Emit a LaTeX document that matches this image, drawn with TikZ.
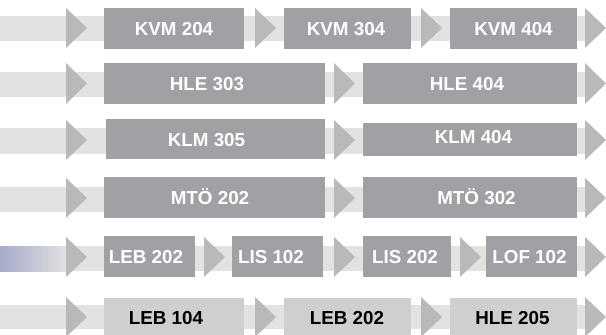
\documentclass[tikz,border=0pt]{standalone}
\usepackage{fontspec}
\setmainfont{Liberation Sans}
\usepackage{tikz}
\definecolor{bandgrey}{RGB}{225,226,226}
\definecolor{tipgrey}{RGB}{184,185,186}
\definecolor{boxgrey}{RGB}{160,161,164}
\definecolor{paleboxgrey}{RGB}{206,207,208}
\definecolor{fadeblue}{RGB}{166,170,200}

\begin{document}
\begin{tikzpicture}[x=0.75pt,y=0.75pt,yscale=-1,xscale=1,
  course/.style={font=\fontsize{14.1}{15}\selectfont\bfseries, text=white, text height=10.1pt, text depth=0pt, inner sep=0pt},
  palecourse/.style={course, text=black}]
\useasboundingbox (0,0) rectangle (606,335);

% Bands
\fill [bandgrey] (0,16) rectangle (590,41) ;
\fill [bandgrey] (0,72) rectangle (590,97) ;
\fill [bandgrey] (0,128) rectangle (590,154) ;
\fill [bandgrey] (0,187) rectangle (590,212) ;
\fill [bandgrey] (66,246) rectangle (590,271) ;
\shade [left color=fadeblue, right color=bandgrey] (0,246) rectangle (67,271) ;
\fill [bandgrey] (0,305) rectangle (590,329) ;

% Tips row 1
\fill [tipgrey] (66,8) -- (87,28) -- (66,48) -- cycle ;
\fill [tipgrey] (255,8) -- (276,28) -- (255,48) -- cycle ;
\fill [tipgrey] (421,8) -- (442,28) -- (421,48) -- cycle ;
\fill [tipgrey] (585,8) -- (606,28) -- (585,48) -- cycle ;
% Tips row 2
\fill [tipgrey] (66,63) -- (87,83.5) -- (66,104) -- cycle ;
\fill [tipgrey] (334,63) -- (355,83.5) -- (334,104) -- cycle ;
\fill [tipgrey] (585,63) -- (606,83.5) -- (585,104) -- cycle ;
% Tips row 3
\fill [tipgrey] (66,120) -- (87,140) -- (66,160) -- cycle ;
\fill [tipgrey] (334,120) -- (355,140) -- (334,160) -- cycle ;
\fill [tipgrey] (585,120) -- (606,140) -- (585,160) -- cycle ;
% Tips row 4
\fill [tipgrey] (66,178) -- (87,198) -- (66,218) -- cycle ;
\fill [tipgrey] (334,178) -- (355,198) -- (334,218) -- cycle ;
\fill [tipgrey] (585,178) -- (606,198) -- (585,218) -- cycle ;
% Tips row 5
\fill [tipgrey] (66,237) -- (87,257) -- (66,277) -- cycle ;
\fill [tipgrey] (204,237) -- (225,257) -- (204,277) -- cycle ;
\fill [tipgrey] (334,237) -- (355,257) -- (334,277) -- cycle ;
\fill [tipgrey] (460,237) -- (481,257) -- (460,277) -- cycle ;
\fill [tipgrey] (585,237) -- (606,257) -- (585,277) -- cycle ;
% Tips row 6
\fill [tipgrey] (66,297) -- (87,317) -- (66,337) -- cycle ;
\fill [tipgrey] (255,297) -- (276,317) -- (255,337) -- cycle ;
\fill [tipgrey] (421,297) -- (442,317) -- (421,337) -- cycle ;
\fill [tipgrey] (585,297) -- (606,317) -- (585,337) -- cycle ;

% Boxes
\fill [boxgrey] (104,8) rectangle (244,49) ;
\fill [boxgrey] (284,8) rectangle (411,49) ;
\fill [boxgrey] (450,8) rectangle (577,49) ;
\fill [boxgrey] (104,63) rectangle (325,104) ;
\fill [boxgrey] (363,63) rectangle (577,104) ;
\fill [boxgrey] (106,119) rectangle (325,159) ;
\fill [boxgrey] (363,123) rectangle (577,156) ;
\fill [boxgrey] (104,177) rectangle (325,218) ;
\fill [boxgrey] (363,177) rectangle (577,218) ;
\fill [boxgrey] (104,236) rectangle (195,277) ;
\fill [boxgrey] (232,236) rectangle (323,277) ;
\fill [boxgrey] (363,236) rectangle (451,277) ;
\fill [boxgrey] (486,236) rectangle (577,277) ;
\fill [paleboxgrey] (104,298) rectangle (244,339) ;
\fill [paleboxgrey] (284,298) rectangle (411,339) ;
\fill [paleboxgrey] (450,298) rectangle (577,339) ;

% Text Node
\node [course] (kvmA) at (174,28.5) {KVM 204};
\node [course] (kvmB) at (346,28.5) {KVM 304};
\node [course] (kvmC) at (513.5,28.5) {KVM 404};
\node [course] (hleA) at (207,83.5) {HLE 303};
\node [course] (hleB) at (467,83.5) {HLE 404};
\node [course] (klmA) at (206.5,140) {KLM 305};
\node [course] (klmB) at (473.5,137) {KLM 404};
\node [course] (mtoA) at (210,198) {MTÖ 202};
\node [course] (mtoB) at (476.5,198) {MTÖ 302};
\node [course] (lebA) at (146,257) {LEB 202};
\node [course] (lisA) at (271,257) {LIS 102};
\node [course] (lisB) at (405,257) {LIS 202};
\node [course] (lofA) at (529.5,257) {LOF 102};
\node [palecourse] (lebB) at (166,318) {LEB 104};
\node [palecourse] (lebC) at (347,318) {LEB 202};
\node [palecourse] (hleC) at (512.5,318) {HLE 205};

\end{tikzpicture}
\end{document}
